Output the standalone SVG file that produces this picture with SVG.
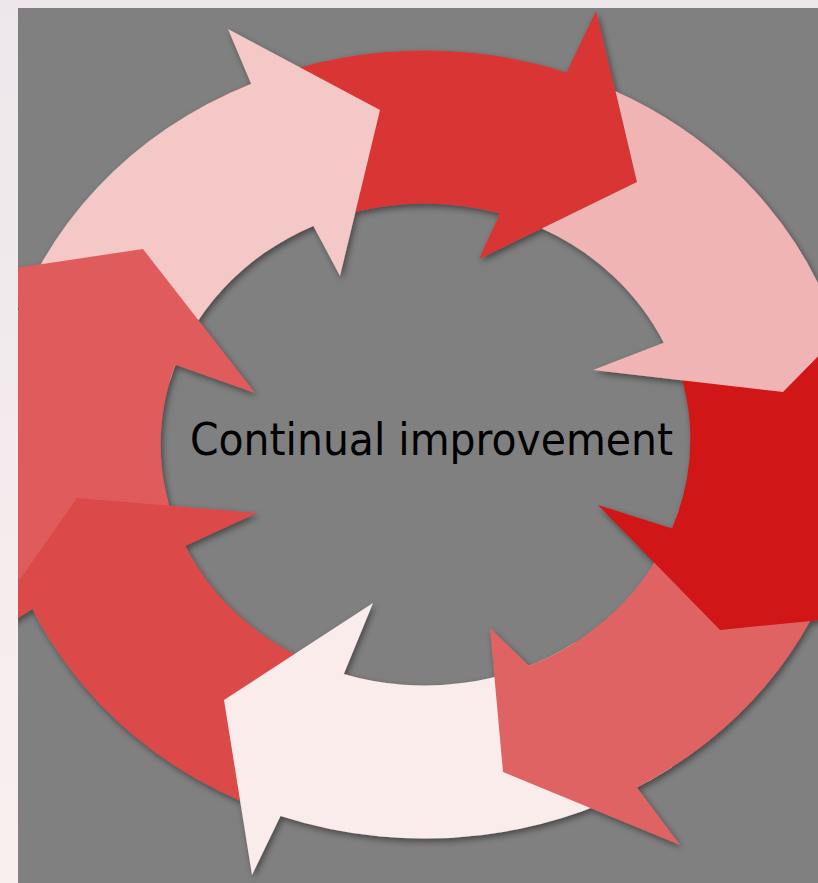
<svg xmlns="http://www.w3.org/2000/svg" width="818" height="883" viewBox="0 0 818 883">
  <defs>
    <linearGradient id="bg" x1="0" y1="0" x2="0" y2="1">
      <stop offset="0" stop-color="#ede7eb"/>
      <stop offset="1" stop-color="#f9efef"/>
    </linearGradient>
    <clipPath id="panel">
      <rect x="18" y="8" width="800" height="875"/>
    </clipPath>
    <filter id="shadow" x="-10%" y="-10%" width="120%" height="120%">
      <feDropShadow dx="2" dy="3" stdDeviation="3" flood-color="#000" flood-opacity="0.45"/>
    </filter>
  </defs>
  <style>
    .arrow { stroke: none; }
    #arrow1 path { fill: #d93636; }
    #arrow2 path { fill: #f0b4b4; }
    #arrow3 path { fill: #d01414; }
    #arrow4 path { fill: #e06464; }
    #arrow5 path { fill: #fbecec; }
    #arrow6 path { fill: #dc4848; }
    #arrow7 path { fill: #e05c5c; }
    #arrow8 path { fill: #f5c8c8; }
    .label { font-family: Tahoma, "DejaVu Sans", Verdana, sans-serif; font-size: 44px; fill: #000; }
  </style>
  <rect x="0" y="0" width="818" height="883" fill="url(#bg)"/>
  <rect x="18" y="8" width="800" height="875" fill="#808080"/>
  <g clip-path="url(#panel)">
    <g id="connectors" filter="url(#shadow)">
      <g id="arrow1" class="arrow">
        <path d="M208.8,103.3 A431.4,394 0 0 1 566.4,72.4 L596,11 L637,182 L479,259 L499.9,213.6 A263.9,241 0 0 0 292.5,235.8 Z"/>
      </g>
      <g id="arrow8" class="arrow">
        <path d="M7.8,342.5 A431.4,394 0 0 1 251.1,83.7 L228,29 L380,110 L340,276 L313.4,225.9 A263.9,241 0 0 0 169.6,382.1 Z"/>
      </g>
      <g id="arrow7" class="arrow">
        <path d="M50.9,641.5 A431.4,394 0 0 1 19.6,308.5 L-42.1,276.6 L143,249 L255,393 L175.4,364.8 A263.9,241 0 0 0 196,565 Z"/>
      </g>
      <g id="arrow6" class="arrow">
        <path d="M334.8,829.9 A431.4,394 0 0 1 32.6,609.1 L-26.3,645.3 L77,498 L257,513 L185.1,546 A263.9,241 0 0 0 369.6,680.2 Z"/>
      </g>
      <g id="arrow5" class="arrow">
        <path d="M671.9,767.3 A431.4,394 0 0 1 280.5,815.9 L252,875 L224,700 L373,603 L343.8,674 A263.9,241 0 0 0 575.9,641.9 Z"/>
      </g>
      <g id="arrow4" class="arrow">
        <path d="M841.2,546.5 A431.4,394 0 0 1 636.9,787.4 L680,845 L503,772 L490,628 L528.9,665.8 A263.9,241 0 0 0 679.4,506.9 Z"/>
      </g>
      <g id="arrow3" class="arrow">
        <path d="M810.2,270.1 A431.4,394 0 0 1 825.9,588.9 L880,614 L720,630 L598,505 L671.9,528.5 A263.9,241 0 0 0 666.1,338.7 Z"/>
      </g>
      <g id="arrow2" class="arrow">
        <path d="M615.6,91.3 A431.4,394 0 0 1 818.6,284.2 L892.7,280.4 L783,392 L593,370 L663.7,342.7 A263.9,241 0 0 0 541.8,228.6 L637,182 Z"/>
      </g>
    </g>
  </g>
  <g id="center-label">
    <text class="label" x="431.5" y="455" text-anchor="middle" textLength="483" lengthAdjust="spacingAndGlyphs">Continual improvement</text>
  </g>
</svg>
